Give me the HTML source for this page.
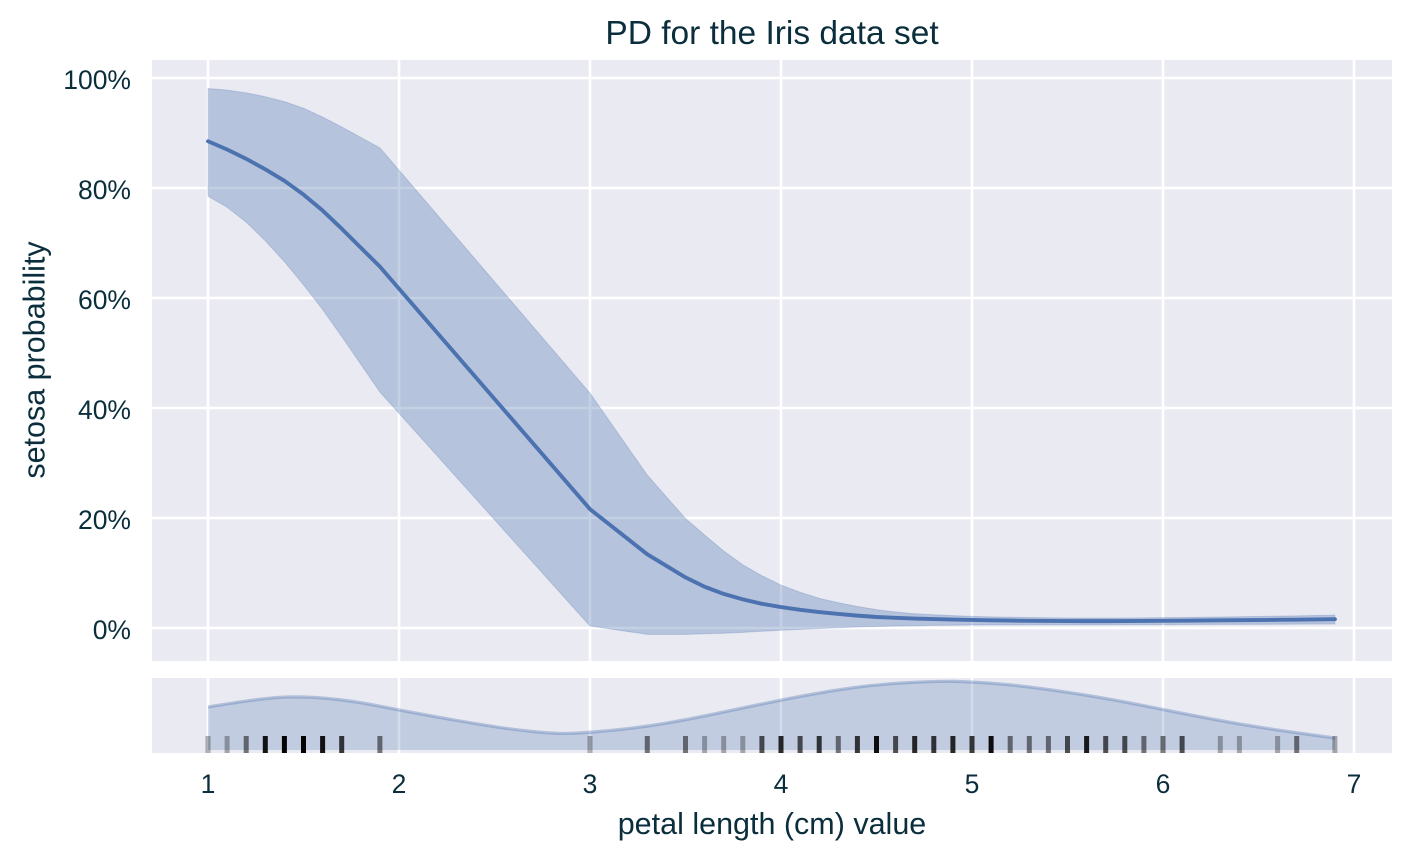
<!DOCTYPE html>
<html><head><meta charset="utf-8"><style>
html,body{margin:0;padding:0;background:#fff;}
svg{display:block;}
text{font-family:"Liberation Sans",Arial,sans-serif;fill:#0a2e3c;}
</style></head><body>
<svg width="1411" height="860" viewBox="0 0 1411 860" xmlns="http://www.w3.org/2000/svg">
<text x="772" y="44" font-size="33.5" text-anchor="middle">PD for the Iris data set</text>

<rect x="152" y="60" width="1240" height="601" fill="#eaeaf2"/>
<g stroke="#ffffff" stroke-width="2.6">
<line x1="152" y1="78" x2="1392" y2="78"/>
<line x1="152" y1="188" x2="1392" y2="188"/>
<line x1="152" y1="298" x2="1392" y2="298"/>
<line x1="152" y1="408" x2="1392" y2="408"/>
<line x1="152" y1="518" x2="1392" y2="518"/>
<line x1="152" y1="628" x2="1392" y2="628"/>
<line x1="208" y1="60" x2="208" y2="661"/>
<line x1="399" y1="60" x2="399" y2="661"/>
<line x1="590" y1="60" x2="590" y2="661"/>
<line x1="781" y1="60" x2="781" y2="661"/>
<line x1="972" y1="60" x2="972" y2="661"/>
<line x1="1163" y1="60" x2="1163" y2="661"/>
<line x1="1354" y1="60" x2="1354" y2="661"/>
</g>

<polygon fill="#4c72b0" fill-opacity="0.33" stroke="#4c72b0" stroke-opacity="0.25" stroke-width="1" points="208,88.45 227.1,90.1 246.2,92.85 265.3,96.7 284.4,101.65 303.5,108.25 322.6,117.05 341.7,126.95 379.9,147.85 590,393.15 647.3,475.1 685.5,518.55 704.6,535.05 723.7,551 742.8,564.75 761.9,575.75 781,585.1 800.1,592.25 819.2,598.3 838.3,602.7 857.4,606.55 876.5,609.58 895.6,612.05 914.7,613.7 933.8,614.8 952.9,615.63 972,616.34 991.1,616.84 1010.2,617.22 1029.3,617.55 1048.4,617.77 1067.5,617.94 1086.6,617.99 1105.7,617.99 1124.8,617.94 1143.9,617.83 1163,617.66 1182.1,617.44 1220.3,617 1239.4,616.73 1277.6,616.18 1296.7,615.9 1334.9,615.08 1334.9,623.99 1296.7,624.15 1277.6,624.2 1239.4,624.37 1220.3,624.43 1182.1,624.54 1163,624.59 1143.9,624.65 1105.7,624.7 1067.5,624.76 1029.3,624.81 991.1,624.92 972,625.03 952.9,625.2 933.8,625.42 914.7,625.69 895.6,626.02 876.5,626.46 857.4,627.01 838.3,627.73 819.2,628.55 800.1,629.38 781,630.2 761.9,631.3 742.8,632.4 723.7,633.23 704.6,633.78 685.5,634.33 647.3,634.33 590,626.02 379.9,392.05 341.7,336.5 322.6,309.55 303.5,284.8 284.4,261.7 265.3,240.8 246.2,222.1 227.1,207.25 208,196.25"/>

<polyline fill="none" stroke="#4c72b0" stroke-width="3.9" stroke-linejoin="round" stroke-linecap="round" points="208,141.25 227.1,149.5 246.2,158.85 265.3,169.3 284.4,180.85 303.5,194.6 322.6,210.55 341.7,228.7 379.9,266.65 590,509.2 647.3,554.3 685.5,577.4 704.6,586.75 723.7,593.9 742.8,599.4 761.9,603.8 781,607.1 800.1,609.85 819.2,612.05 838.3,613.98 857.4,615.63 876.5,617 895.6,617.83 914.7,618.54 933.8,619.09 952.9,619.59 972,619.97 991.1,620.3 1010.2,620.58 1029.3,620.8 1048.4,620.96 1067.5,621.07 1086.6,621.13 1105.7,621.13 1124.8,621.07 1143.9,620.96 1163,620.85 1182.1,620.69 1220.3,620.36 1239.4,620.19 1277.6,619.86 1296.7,619.64 1334.9,619.2"/>

<g font-size="26.5" text-anchor="end">
<text x="131" y="89">100%</text>
<text x="131" y="199">80%</text>
<text x="131" y="309">60%</text>
<text x="131" y="419">40%</text>
<text x="131" y="529">20%</text>
<text x="131" y="639">0%</text>
</g>
<text transform="translate(44.5,360) rotate(-90)" font-size="30.5" text-anchor="middle">setosa probability</text>

<rect x="152" y="678" width="1240" height="75" fill="#eaeaf2"/>
<g stroke="#ffffff" stroke-width="2.6">
<line x1="208" y1="678" x2="208" y2="753"/>
<line x1="399" y1="678" x2="399" y2="753"/>
<line x1="590" y1="678" x2="590" y2="753"/>
<line x1="781" y1="678" x2="781" y2="753"/>
<line x1="972" y1="678" x2="972" y2="753"/>
<line x1="1163" y1="678" x2="1163" y2="753"/>
<line x1="1354" y1="678" x2="1354" y2="753"/>
</g>
<path fill="#4c72b0" fill-opacity="0.25" d="M208,707 Q255.75,699 277.7,697.5 Q299.7,696 325.35,698.25 Q351,700.5 375,705.25 Q399,710 418,713.5 Q437,717 456,720.3 Q475,723.6 494,726.55 Q513,729.5 535.25,731.75 Q557.5,734 573.75,733.25 Q590,732.5 615,730 Q640,727.5 662.75,723.75 Q685.5,720 709.25,715 Q733,710 757,705 Q781,700 805,695.5 Q829,691 852.75,687.75 Q876.5,684.5 905.25,682.75 Q934,681 953,681.35 Q972,681.7 996,683.6 Q1020,685.5 1046.5,689.25 Q1073,693 1094,696.5 Q1115,700 1139,704.75 Q1163,709.5 1182,713.25 Q1201,717 1220,720.5 Q1239,724 1258,727 Q1277,730 1335,738 L1335,750 L208,750 Z"/>
<path fill="none" stroke="#4c72b0" stroke-opacity="0.35" stroke-width="3.2" d="M208,707 Q255.75,699 277.7,697.5 Q299.7,696 325.35,698.25 Q351,700.5 375,705.25 Q399,710 418,713.5 Q437,717 456,720.3 Q475,723.6 494,726.55 Q513,729.5 535.25,731.75 Q557.5,734 573.75,733.25 Q590,732.5 615,730 Q640,727.5 662.75,723.75 Q685.5,720 709.25,715 Q733,710 757,705 Q781,700 805,695.5 Q829,691 852.75,687.75 Q876.5,684.5 905.25,682.75 Q934,681 953,681.35 Q972,681.7 996,683.6 Q1020,685.5 1046.5,689.25 Q1073,693 1094,696.5 Q1115,700 1139,704.75 Q1163,709.5 1182,713.25 Q1201,717 1220,720.5 Q1239,724 1258,727 Q1277,730 1335,738"/>

<g fill="#000">
<rect x="205.5" y="736" width="5" height="17" fill-opacity="0.3"/>
<rect x="224.6" y="736" width="5" height="17" fill-opacity="0.3"/>
<rect x="243.7" y="736" width="5" height="17" fill-opacity="0.51"/>
<rect x="262.8" y="736" width="5" height="17" fill-opacity="0.918"/>
<rect x="281.9" y="736" width="5" height="17" fill-opacity="0.99"/>
<rect x="301" y="736" width="5" height="17" fill-opacity="0.99"/>
<rect x="320.1" y="736" width="5" height="17" fill-opacity="0.918"/>
<rect x="339.2" y="736" width="5" height="17" fill-opacity="0.76"/>
<rect x="377.4" y="736" width="5" height="17" fill-opacity="0.51"/>
<rect x="587.5" y="736" width="5" height="17" fill-opacity="0.3"/>
<rect x="644.8" y="736" width="5" height="17" fill-opacity="0.51"/>
<rect x="683" y="736" width="5" height="17" fill-opacity="0.51"/>
<rect x="702.1" y="736" width="5" height="17" fill-opacity="0.3"/>
<rect x="721.2" y="736" width="5" height="17" fill-opacity="0.3"/>
<rect x="740.3" y="736" width="5" height="17" fill-opacity="0.3"/>
<rect x="759.4" y="736" width="5" height="17" fill-opacity="0.657"/>
<rect x="778.5" y="736" width="5" height="17" fill-opacity="0.832"/>
<rect x="797.6" y="736" width="5" height="17" fill-opacity="0.657"/>
<rect x="816.7" y="736" width="5" height="17" fill-opacity="0.76"/>
<rect x="835.8" y="736" width="5" height="17" fill-opacity="0.51"/>
<rect x="854.9" y="736" width="5" height="17" fill-opacity="0.76"/>
<rect x="874" y="736" width="5" height="17" fill-opacity="0.942"/>
<rect x="893.1" y="736" width="5" height="17" fill-opacity="0.657"/>
<rect x="912.2" y="736" width="5" height="17" fill-opacity="0.832"/>
<rect x="931.3" y="736" width="5" height="17" fill-opacity="0.76"/>
<rect x="950.4" y="736" width="5" height="17" fill-opacity="0.832"/>
<rect x="969.5" y="736" width="5" height="17" fill-opacity="0.76"/>
<rect x="988.6" y="736" width="5" height="17" fill-opacity="0.942"/>
<rect x="1007.7" y="736" width="5" height="17" fill-opacity="0.51"/>
<rect x="1026.8" y="736" width="5" height="17" fill-opacity="0.51"/>
<rect x="1045.9" y="736" width="5" height="17" fill-opacity="0.51"/>
<rect x="1065" y="736" width="5" height="17" fill-opacity="0.657"/>
<rect x="1084.1" y="736" width="5" height="17" fill-opacity="0.882"/>
<rect x="1103.2" y="736" width="5" height="17" fill-opacity="0.657"/>
<rect x="1122.3" y="736" width="5" height="17" fill-opacity="0.657"/>
<rect x="1141.4" y="736" width="5" height="17" fill-opacity="0.51"/>
<rect x="1160.5" y="736" width="5" height="17" fill-opacity="0.51"/>
<rect x="1179.6" y="736" width="5" height="17" fill-opacity="0.657"/>
<rect x="1217.8" y="736" width="5" height="17" fill-opacity="0.3"/>
<rect x="1236.9" y="736" width="5" height="17" fill-opacity="0.3"/>
<rect x="1275.1" y="736" width="5" height="17" fill-opacity="0.3"/>
<rect x="1294.2" y="736" width="5" height="17" fill-opacity="0.51"/>
<rect x="1332.4" y="736" width="5" height="17" fill-opacity="0.3"/>
</g>

<g font-size="26.5" text-anchor="middle">
<text x="208" y="793">1</text>
<text x="399" y="793">2</text>
<text x="590" y="793">3</text>
<text x="781" y="793">4</text>
<text x="972" y="793">5</text>
<text x="1163" y="793">6</text>
<text x="1354" y="793">7</text>
</g>
<text x="772" y="834" font-size="30.5" text-anchor="middle">petal length (cm) value</text>
</svg>
</body></html>
